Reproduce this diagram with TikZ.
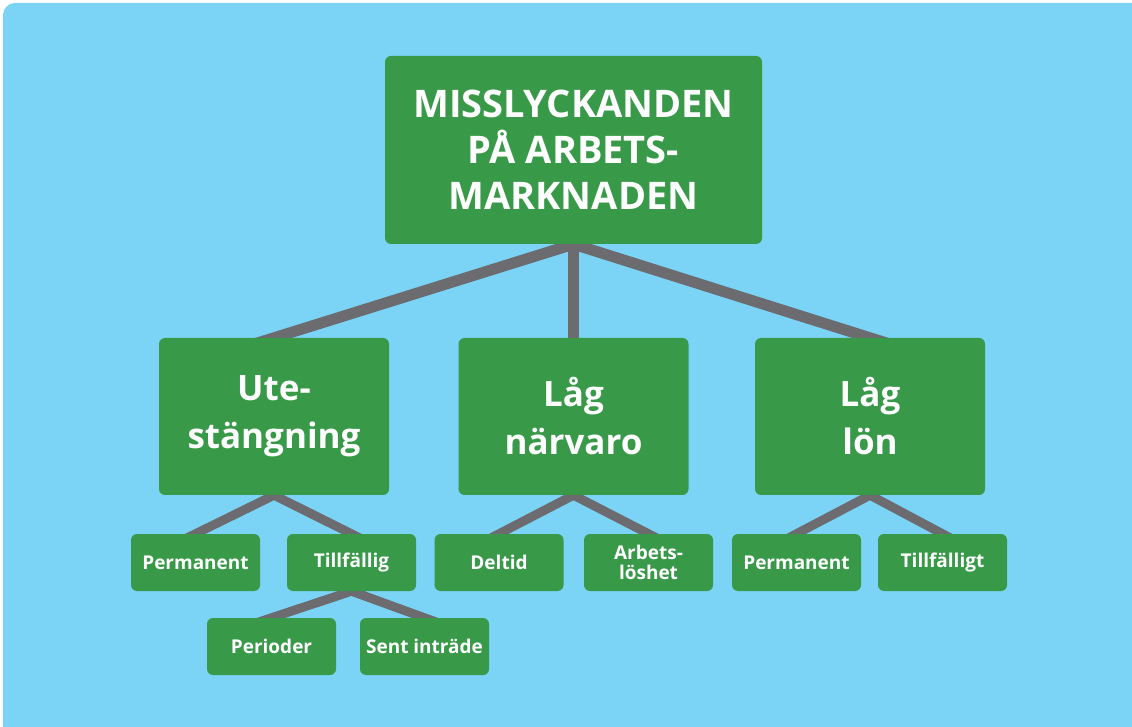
\documentclass[tikz,border=0pt]{standalone}
\usepackage{fontspec}
\setmainfont{Open Sans}
\usetikzlibrary{backgrounds,calc}
\definecolor{bgblue}{HTML}{7BD3F5}
\definecolor{boxgreen}{HTML}{389A48}
\definecolor{linegray}{HTML}{6C6C70}
\tikzset{
  box/.style={fill=boxgreen, rounded corners=6pt, text=white, font=\bfseries, align=center, inner sep=0pt},
  topbox/.style={box, minimum width=377pt, minimum height=188pt, font=\bfseries\fontsize{38}{46}\selectfont},
  midbox/.style={box, minimum width=230pt, minimum height=157pt, font=\bfseries\fontsize{35}{48}\selectfont},
  smallbox/.style={box, minimum width=129pt, minimum height=57pt, font=\bfseries\fontsize{19}{20}\selectfont},
  bigline/.style={draw=linegray, line width=11pt},
  smallline/.style={draw=linegray, line width=9pt}
}
\begin{document}
\begin{tikzpicture}[x=1pt,y=1pt]
\useasboundingbox (0,0) rectangle (1132,726);
\node[topbox] (top) at (573.5,576) {MISSLYCKANDEN\\PÅ ARBETS-\\MARKNADEN};
\node[midbox] (ute) at (274,309.5) {Ute-\\stängning};
\node[midbox] (narvaro) at (573.5,309.5) {Låg\\närvaro};
\node[midbox] (lon) at (870,309.5) {Låg\\lön};
\node[smallbox] (perm1) at (195.5,163.5) {Permanent};
\node[smallbox] (tillf) at (351.5,163.5) {Tillfällig};
\node[smallbox] (deltid) at (499,163.5) {Deltid};
\node[smallbox] (arbets) at (648.5,163.5) {Arbets-\\löshet};
\node[smallbox] (perm2) at (796.5,163.5) {Permanent};
\node[smallbox] (tillft) at (942.5,163.5) {Tillfälligt};
\node[smallbox] (perioder) at (271.5,79.5) {Perioder};
\node[smallbox] (sent) at (424.5,79.5) {Sent inträde};
\begin{pgfonlayer}{background}
\fill[bgblue, rounded corners=12pt] (3,723) rectangle (1145,-15);
\foreach \c in {ute,narvaro,lon}
  \draw[bigline] ($(top.south)!-0.15!(\c.north)$) -- ($(top.south)!1.15!(\c.north)$);
\foreach \p/\c in {ute/perm1,ute/tillf,narvaro/deltid,narvaro/arbets,lon/perm2,lon/tillft,tillf/perioder,tillf/sent}
  \draw[smallline] ($(\p.south)!-0.3!(\c.north)$) -- ($(\p.south)!1.3!(\c.north)$);
\end{pgfonlayer}
\end{tikzpicture}
\end{document}
